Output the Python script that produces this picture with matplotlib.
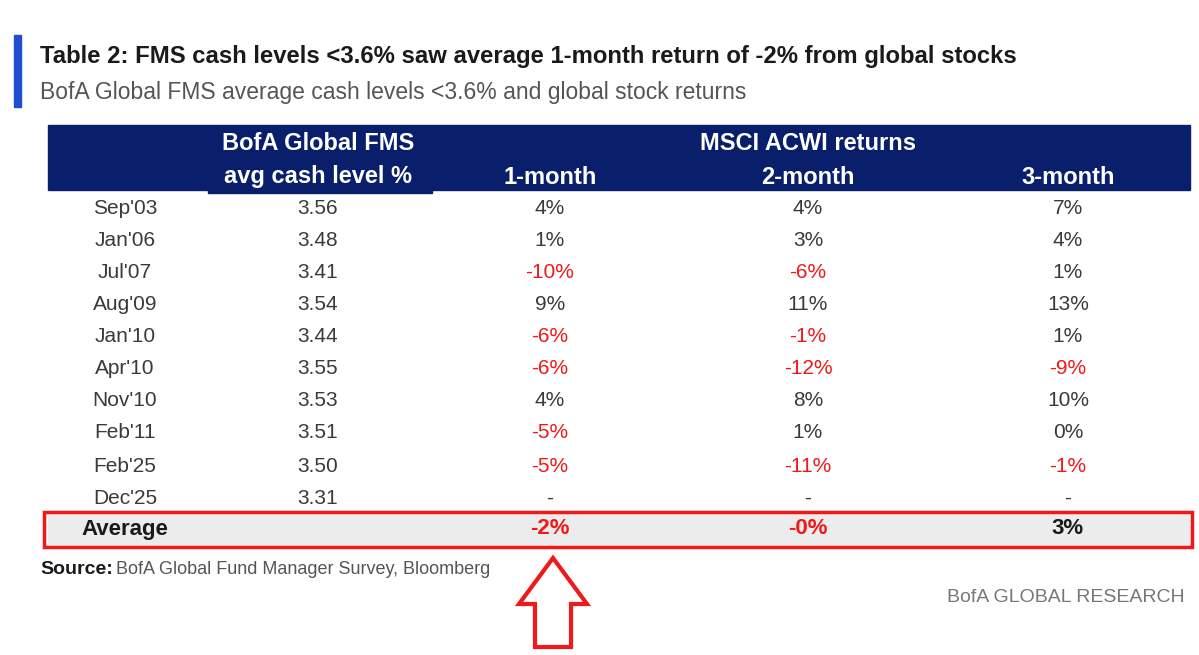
import matplotlib
matplotlib.use("Agg")
import matplotlib.pyplot as plt
from matplotlib.patches import Rectangle, Polygon

plt.rcParams['font.family'] = ['Liberation Sans', 'DejaVu Sans']

dates = ["Sep'03", "Jan'06", "Jul'07", "Aug'09", "Jan'10", "Apr'10", "Nov'10", "Feb'11", "Feb'25", "Dec'25"]
cash = ["3.56", "3.48", "3.41", "3.54", "3.44", "3.55", "3.53", "3.51", "3.50", "3.31"]
ret1 = [4, 1, -10, 9, -6, -6, 4, -5, -5, None]
ret2 = [4, 3, -6, 11, -1, -12, 8, 1, -11, None]
ret3 = [7, 4, 1, 13, 1, -9, 10, 0, -1, None]
avg = ["-2%", "-0%", "3%"]
avg_red = [True, True, False]

NAVY = "#0a1f6b"
RED = "#f01818"
TXT = "#3a3a3a"

fig = plt.figure(figsize=(11.99, 6.55), dpi=100)
ax = fig.add_axes([0, 0, 1, 1])
ax.set_xlim(0, 1199)
ax.set_ylim(655, 0)
ax.axis('off')

ax.add_patch(Rectangle((14, 35), 7, 72, color="#1f4fd0"))
ax.text(40, 57, "Table 2: FMS cash levels <3.6% saw average 1-month return of -2% from global stocks",
        fontsize=17.2, fontweight='bold', color="#1a1a1a", va='center')
ax.text(40, 92, "BofA Global FMS average cash levels <3.6% and global stock returns",
        fontsize=16.5, color="#555555", va='center')

ax.add_patch(Rectangle((48, 125), 1142, 65, color=NAVY))
ax.add_patch(Rectangle((208, 185), 224, 8, color=NAVY))
hdr = dict(color='white', fontsize=17, fontweight='bold', ha='center', va='center')
ax.text(318, 143, "BofA Global FMS", **hdr)
ax.text(318, 177, "avg cash level %", **hdr)
ax.text(808, 143, "MSCI ACWI returns", **hdr)
cols_x = [550, 808, 1068]
for x, lab in zip(cols_x, ["1-month", "2-month", "3-month"]):
    ax.text(x, 177, lab, **hdr)

row_y = [209, 240, 272, 305, 337, 369, 401, 433, 466, 498]
def fmt(v):
    if v is None:
        return "-", TXT
    return f"{v}%", (RED if v < 0 else TXT)
for i, y in enumerate(row_y):
    ax.text(125, y, dates[i], fontsize=15, color=TXT, ha='center', va='center')
    ax.text(318, y, cash[i], fontsize=15, color=TXT, ha='center', va='center')
    for x, series in zip(cols_x, [ret1, ret2, ret3]):
        s, c = fmt(series[i])
        ax.text(x, y, s, fontsize=15, color=c, ha='center', va='center')

ax.add_patch(Rectangle((48, 514), 1142, 31, color="#ececec"))
ax.add_patch(Rectangle((44, 512), 1148, 35, fill=False, edgecolor=RED, lw=2.5))
ax.text(125, 529, "Average", fontsize=16, fontweight='bold', color="#1a1a1a", ha='center', va='center')
for x, s, r in zip(cols_x, avg, avg_red):
    ax.text(x, 529, s, fontsize=16, fontweight='bold', color=(RED if r else "#1a1a1a"),
            ha='center', va='center')

ax.text(40, 570, "Source:", fontsize=14, fontweight='bold', color="#1a1a1a", va='center')
ax.text(116, 570, "BofA Global Fund Manager Survey, Bloomberg", fontsize=13, color="#555555", va='center')
ax.text(1185, 598, "BofA GLOBAL RESEARCH", fontsize=14, color="#777777", ha='right', va='center')

arrow = [(553, 558), (587, 604), (571, 604), (571, 647), (535, 647), (535, 604), (519, 604)]
ax.add_patch(Polygon(arrow, closed=True, fill=False, edgecolor=RED, lw=3, joinstyle='miter'))

fig.savefig("out.png", dpi=100)
